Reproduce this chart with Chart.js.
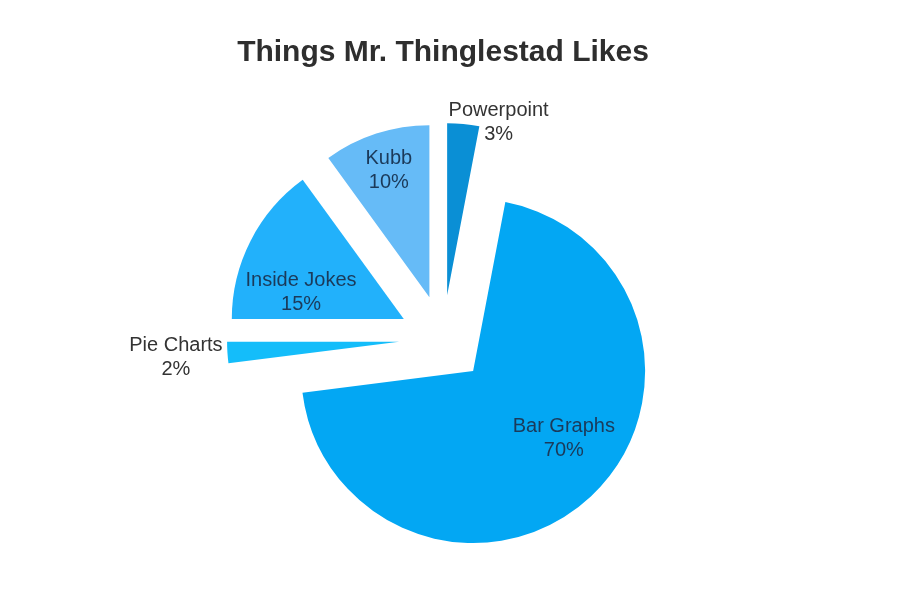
<!DOCTYPE html>
<html>
<head>
<meta charset="utf-8">
<title>Things Mr. Thinglestad Likes</title>
<script src="https://cdn.jsdelivr.net/npm/chart.js@4"></script>
<style>
  html, body { margin: 0; padding: 0; background: #fff; }
  #wrap { width: 910px; height: 598px; }
</style>
</head>
<body>
<div id="wrap"><canvas id="pieChart"></canvas></div>
<script>
// Slices, clockwise from 12 o'clock
const labels = ['Powerpoint', 'Bar Graphs', 'Pie Charts', 'Inside Jokes', 'Kubb'];
const values = [3, 70, 2, 15, 10];
const colors = ['#0a8fd5', '#03a7f3', '#14bdfa', '#22b1fb', '#66bbf7'];

// label placement: distance as a fraction of the radius, angle nudge in degrees
const labelDist = [1.06, 0.65, 1.30, 0.62, 0.785];
const labelShift = [11, -11, 0, -11.5, 0.5];
const labelInside = [false, true, false, true, true];

const EXPLODE = 44;
const RADIUS = 172;
const FONT = "'Liberation Sans', Arial, Helvetica, sans-serif";

// push every slice out along its middle angle
const explodePlugin = {
  id: 'explode',
  afterDatasetUpdate(chart, args) {
    args.meta.data.forEach(arc => {
      const mid = (arc.startAngle + arc.endAngle) / 2;
      arc.x += Math.cos(mid) * EXPLODE;
      arc.y += Math.sin(mid) * EXPLODE;
    });
  }
};

const sliceLabels = {
  id: 'sliceLabels',
  afterDatasetsDraw(chart) {
    const ctx = chart.ctx;
    const arcs = chart.getDatasetMeta(0).data;
    const total = values.reduce((a, b) => a + b, 0);
    ctx.save();
    ctx.font = '20px ' + FONT;
    ctx.textAlign = 'center';
    ctx.textBaseline = 'middle';
    arcs.forEach((arc, i) => {
      const mid = (arc.startAngle + arc.endAngle) / 2 + labelShift[i] * Math.PI / 180;
      const r = arc.outerRadius * labelDist[i];
      const x = arc.x + Math.cos(mid) * r;
      const y = arc.y + Math.sin(mid) * r + 2;
      ctx.fillStyle = labelInside[i] ? '#1b3a5a' : '#333333';
      ctx.fillText(labels[i], x, y - 12);
      ctx.fillText(Math.round(values[i] / total * 100) + '%', x, y + 12);
    });
    ctx.restore();
  }
};

const ctx = document.getElementById('pieChart').getContext('2d');
new Chart(ctx, {
  type: 'pie',
  data: {
    labels: labels,
    datasets: [{
      data: values,
      backgroundColor: colors,
      borderWidth: 0,
      offset: 0
    }]
  },
  options: {
    responsive: true,
    maintainAspectRatio: false,
    animation: false,
    radius: RADIUS,
    layout: { padding: { top: 25, bottom: 1, left: 0, right: 24 } },
    plugins: {
      legend: { display: false },
      tooltip: { enabled: false },
      title: {
        display: true,
        text: 'Things Mr. Thinglestad Likes',
        color: '#2e2e2e',
        font: { family: FONT, size: 30, weight: 'bold' },
        padding: { top: 10, bottom: 10 }
      }
    }
  },
  plugins: [explodePlugin, sliceLabels]
});
</script>
</body>
</html>
